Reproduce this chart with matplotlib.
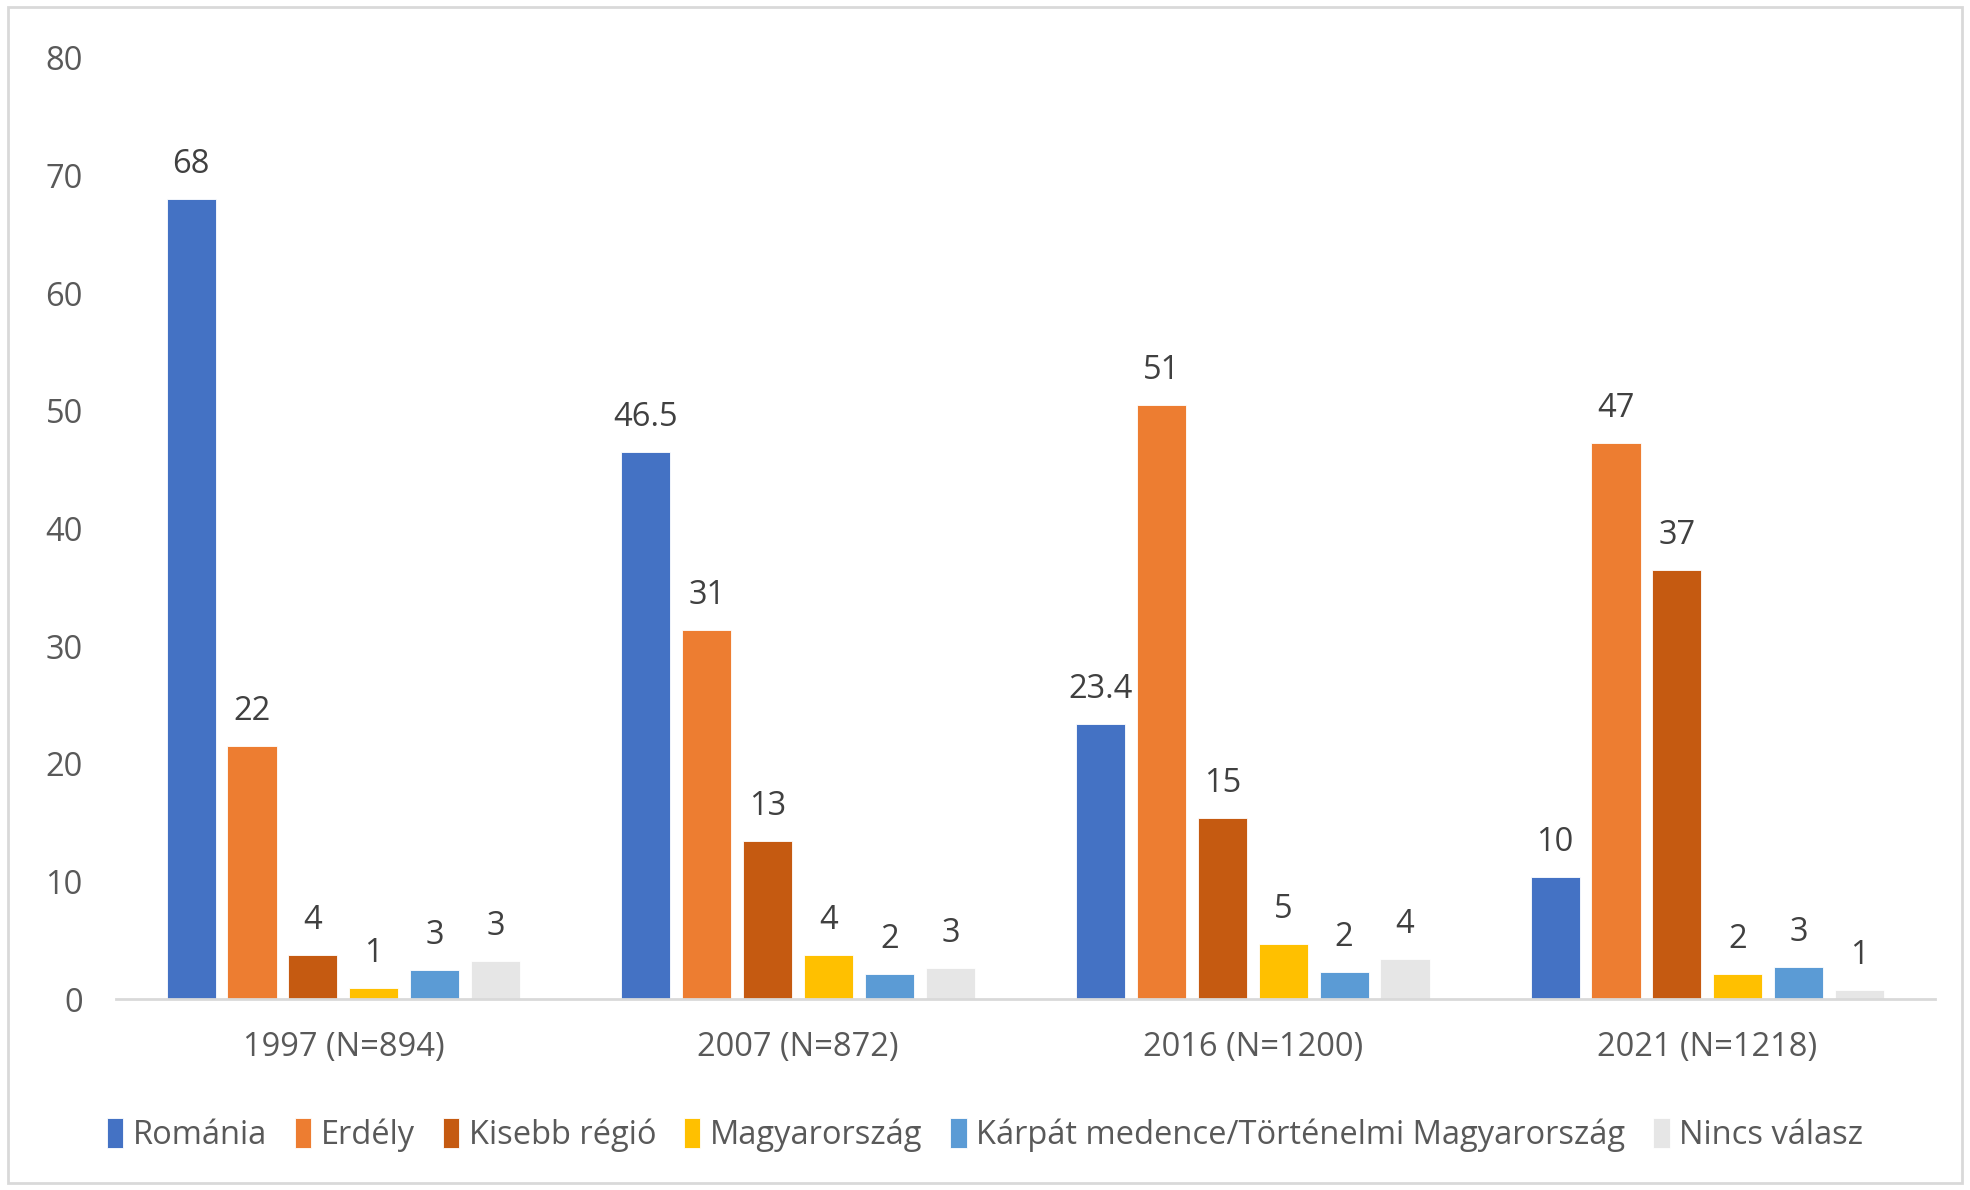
import numpy as np
import matplotlib
matplotlib.use('Agg')
import matplotlib.pyplot as plt
from matplotlib.patches import Rectangle

# Adatok
kategoriak = ['1997 (N=894)', '2007 (N=872)', '2016 (N=1200)', '2021 (N=1218)']
sorozatok = ['Románia', 'Erdély', 'Kisebb régió', 'Magyarország',
             'Kárpát medence/Történelmi Magyarország', 'Nincs válasz']
romania = [68, 46.5, 23.4, 10.4]
erdely = [21.5, 31.4, 50.5, 47.3]
kisebb = [3.7, 13.4, 15.4, 36.5]
magyar = [0.9, 3.7, 4.7, 2.1]
karpat = [2.5, 2.1, 2.3, 2.7]
nincs = [3.2, 2.6, 3.4, 0.8]
ertekek = [romania, erdely, kisebb, magyar, karpat, nincs]

# Feliratok (kerekítve, ahogy az eredetin)
cimkek = [
    ['68', '46.5', '23.4', '10'],
    ['22', '31', '51', '47'],
    ['4', '13', '15', '37'],
    ['1', '4', '5', '2'],
    ['3', '2', '2', '3'],
    ['3', '3', '4', '1'],
]
szinek = ['#4472C4', '#ED7D31', '#C55A11', '#FFC000', '#5B9BD5', '#E6E6E6']

plt.rcParams['font.family'] = ['Open Sans', 'DejaVu Sans']
szoveg = '#595959'
fs = 23.5

fig = plt.figure(figsize=(19.7, 11.9), dpi=100)
ax = fig.add_axes([0.0589, 0.1605, 0.9232, 0.7908])

x = np.arange(len(kategoriak))
lepes = 0.134
szel = 0.108
for i, (nev, adat) in enumerate(zip(sorozatok, ertekek)):
    pos = x + (i - 2.5) * lepes
    bars = ax.bar(pos, adat, width=szel, color=szinek[i], label=nev,
                  edgecolor='white', linewidth=0.6)
    for b, c in zip(bars, cimkek[i]):
        ax.annotate(c, (b.get_x() + b.get_width() / 2, b.get_height()),
                    xytext=(0, 13), textcoords='offset points',
                    ha='center', va='bottom', fontsize=fs, color='#404040')

ax.set_xlim(-0.5, 3.5)
ax.set_ylim(0, 80)
ax.set_yticks(range(0, 81, 10))
ax.set_xticks(x)
ax.set_xticklabels(kategoriak)
ax.tick_params(axis='both', length=0, labelsize=fs, labelcolor=szoveg)
ax.tick_params(axis='y', pad=24)
ax.tick_params(axis='x', pad=23)
for s in ['top', 'right', 'left']:
    ax.spines[s].set_visible(False)
ax.spines['bottom'].set_color('#D9D9D9')
ax.spines['bottom'].set_linewidth(2)

leg = fig.legend(loc='center', bbox_to_anchor=(0.5, 0.046), ncol=6,
                 frameon=False, fontsize=fs, handlelength=0.5,
                 handleheight=1.0, handletextpad=0.3, columnspacing=0.85)
for t in leg.get_texts():
    t.set_color(szoveg)

# keret a diagram körül
fig.patches.append(Rectangle((0.004, 0.006), 0.992, 0.988, transform=fig.transFigure,
                             fill=False, edgecolor='#D9D9D9', linewidth=2))

fig.savefig('out.png', dpi=100)
